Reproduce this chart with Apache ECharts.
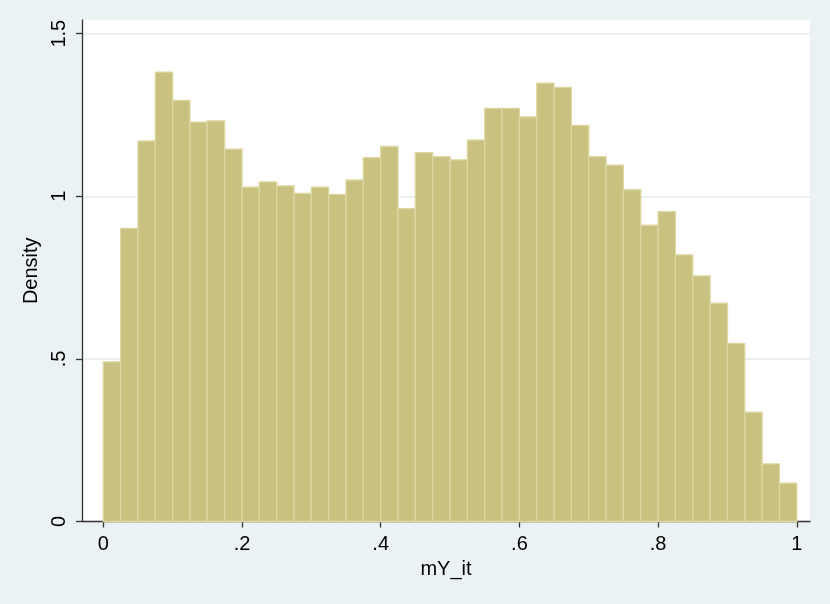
<!DOCTYPE html>
<html>
<head>
<meta charset="utf-8">
<script src="https://cdn.jsdelivr.net/npm/echarts@6/dist/echarts.min.js"></script>
<style>
html,body{margin:0;padding:0;background:#EAF2F3;}
#chart{width:830px;height:604px;}
</style>
</head>
<body>
<div id="chart"></div>
<script>
// Histogram of mY_it: 40 bins of width 0.025 from 0 to 1
const binStart = 0;
const binWidth = 0.025;
const density = [
  0.491, 0.901, 1.170, 1.382, 1.295, 1.228, 1.232, 1.145, 1.028, 1.044,
  1.032, 1.009, 1.028, 1.006, 1.050, 1.119, 1.153, 0.962, 1.134, 1.122,
  1.112, 1.173, 1.270, 1.270, 1.244, 1.348, 1.335, 1.218, 1.122, 1.096,
  1.020, 0.911, 0.953, 0.820, 0.755, 0.671, 0.548, 0.336, 0.177, 0.118
];
const xTicks = [0, 0.2, 0.4, 0.6, 0.8, 1];
const yTicks = [0, 0.5, 1, 1.5];
const xTitle = 'mY_it';
const yTitle = 'Density';

function stataFmt(v) {
  let s = String(Math.round(v * 1000) / 1000);
  if (s.startsWith('0.')) s = s.slice(1);
  return s;
}

const bins = density.map((d, i) => [binStart + i * binWidth, binStart + (i + 1) * binWidth, d]);

const chart = echarts.init(document.getElementById('chart'), null, {renderer: 'canvas'});
const FONT = 'Liberation Sans, Arial, Helvetica, sans-serif';
chart.setOption({
  backgroundColor: '#EAF2F3',
  animation: false,
  grid: {left: 82, right: 20, top: 20, bottom: 82.5, show: true, backgroundColor: '#FFFFFF', borderWidth: 0},
  xAxis: {
    type: 'value',
    min: -0.0307,
    max: 1.019,
    name: xTitle,
    nameLocation: 'middle',
    nameGap: 37,
    nameTextStyle: {fontFamily: FONT, fontSize: 20, color: '#000'},
    axisLine: {show: true, onZero: false, lineStyle: {color: '#333', width: 1.3}},
    axisTick: {show: true, length: 6, customValues: xTicks, lineStyle: {color: '#333', width: 1.3}},
    axisLabel: {customValues: xTicks, formatter: stataFmt, fontFamily: FONT, fontSize: 20, color: '#000', margin: 13},
    splitLine: {show: false}
  },
  yAxis: {
    type: 'value',
    min: 0,
    max: 1.542,
    name: yTitle,
    nameLocation: 'middle',
    nameGap: 41,
    nameRotate: 90,
    nameTextStyle: {fontFamily: FONT, fontSize: 20, color: '#000'},
    axisLine: {show: true, onZero: false, lineStyle: {color: '#333', width: 1.3}},
    axisTick: {show: true, length: 6, customValues: yTicks, lineStyle: {color: '#333', width: 1.3}},
    axisLabel: {customValues: yTicks, formatter: stataFmt, rotate: 90, fontFamily: FONT, fontSize: 20, color: '#000', margin: 13},
    splitLine: {show: true, customValues: yTicks, lineStyle: {color: '#E4ECEF', width: 1.5}}
  },
  series: [{
    type: 'custom',
    data: bins,
    encode: {x: [0, 1], y: 2},
    renderItem: function (params, api) {
      const p0 = api.coord([api.value(0), api.value(2)]);
      const p1 = api.coord([api.value(1), 0]);
      return {
        type: 'rect',
        shape: {x: p0[0], y: p0[1], width: p1[0] - p0[0], height: p1[1] - p0[1]},
        style: {fill: '#C9C17F', stroke: '#DDD7A3', lineWidth: 1.3}
      };
    }
  }]
});
</script>
</body>
</html>
